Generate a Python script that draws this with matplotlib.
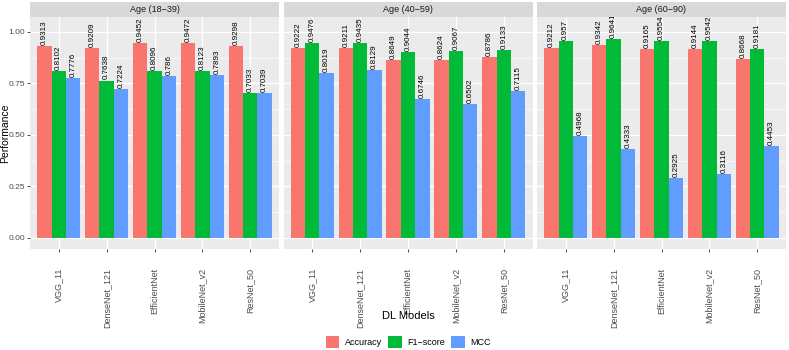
import matplotlib
matplotlib.use("Agg")
import matplotlib.pyplot as plt
import numpy as np
from matplotlib.patches import Rectangle

models = ["VGG_11", "DenseNet_121", "EfficientNet", "MobileNet_v2", "ResNet_50"]
panels = ["Age (18\u221239)", "Age (40\u221259)", "Age (60\u221290)"]
metrics = ["Accuracy", "F1\u2212score", "MCC"]

acc_18_39 = [0.9313, 0.9209, 0.9452, 0.9472, 0.9298]
f1_18_39 = [0.8102, 0.7638, 0.8096, 0.8123, 0.7033]
mcc_18_39 = [0.7776, 0.7224, 0.786, 0.7893, 0.7039]

acc_40_59 = [0.9222, 0.9211, 0.8649, 0.8624, 0.8786]
f1_40_59 = [0.9476, 0.9435, 0.9044, 0.9067, 0.9133]
mcc_40_59 = [0.8019, 0.8129, 0.6746, 0.6502, 0.7115]

acc_60_90 = [0.9212, 0.9342, 0.9165, 0.9144, 0.8668]
f1_60_90 = [0.957, 0.9641, 0.9554, 0.9542, 0.9181]
mcc_60_90 = [0.4968, 0.4333, 0.2925, 0.3116, 0.4453]

data = [
    [acc_18_39, f1_18_39, mcc_18_39],
    [acc_40_59, f1_40_59, mcc_40_59],
    [acc_60_90, f1_60_90, mcc_60_90],
]
colors = ["#F8766D", "#00BA38", "#619CFF"]

W, H = 789, 350
fig = plt.figure(figsize=(W / 100, H / 100), dpi=100)
plt.rcParams['font.family'] = ['Liberation Sans', 'DejaVu Sans']

lefts = [30, 283.5, 537]
pw = 249
ptop, pbot = 17, 249
strip_top = 2

x = np.arange(len(models))
bw = 0.3
for i, (lx, pname) in enumerate(zip(lefts, panels)):
    ax = fig.add_axes([lx / W, 1 - pbot / H, pw / W, (pbot - ptop) / H])
    ax.set_facecolor("#EBEBEB")
    ax.set_xlim(-0.6, len(models) - 0.4)
    ax.set_ylim(-0.0535, 1.072)
    for yv in [0.125, 0.375, 0.625, 0.875]:
        ax.axhline(yv, color="white", lw=0.5, zorder=0)
    for yv in [0, 0.25, 0.5, 0.75, 1.0]:
        ax.axhline(yv, color="white", lw=1.0, zorder=0)
    for xv in x:
        ax.axvline(xv, color="white", lw=1.0, zorder=0)
    for j, vals in enumerate(data[i]):
        xs = x + (j - 1) * bw
        ax.bar(xs, vals, width=bw, color=colors[j], zorder=2, linewidth=0)
        for xx, v in zip(xs, vals):
            ax.text(xx, v + 0.005, f"{v:g}", rotation=90, ha="center", va="bottom",
                    fontsize=5.8, color="black", zorder=3)
    for s in ax.spines.values():
        s.set_visible(False)
    ax.set_xticks(x)
    ax.set_xticklabels(models, rotation=90, fontsize=6.5, color="#4D4D4D")
    ax.tick_params(axis="x", length=2.5, width=0.6, color="#333333", pad=11)
    ax.set_yticks([0, 0.25, 0.5, 0.75, 1.0])
    if i == 0:
        ax.set_yticklabels(["0.00", "0.25", "0.50", "0.75", "1.00"], fontsize=6, color="#4D4D4D")
        ax.tick_params(axis="y", length=2.5, width=0.6, color="#333333", pad=0.8)
    else:
        ax.tick_params(axis="y", length=0, labelleft=False)
    # strip
    fig.patches.append(Rectangle((lx / W, 1 - ptop / H), pw / W, (ptop - strip_top) / H,
                                 transform=fig.transFigure, facecolor="#D9D9D9",
                                 edgecolor="none", zorder=1))
    fig.text((lx + pw / 2) / W, 1 - (ptop + strip_top) / 2 / H, pname, ha="center",
             va="center", fontsize=6.5, color="#1A1A1A")

fig.text(4.8 / W, 1 - 133 / H, "Performance", rotation=90, ha="center", va="center", fontsize=7.5)

cx = (lefts[0] + lefts[-1] + pw) / 2 / W
fig.text(cx, 1 - 316 / H, "DL Models", ha="center", va="center", fontsize=8)

# legend
handles = [Rectangle((0, 0), 1, 1, facecolor=c, edgecolor="none") for c in colors]
fig.legend(handles, metrics, loc="center", bbox_to_anchor=(cx, 1 - 342 / H), ncol=3,
           frameon=False, fontsize=6.5, handlelength=1.5, handleheight=1.5,
           handletextpad=0.6, columnspacing=0.7)

fig.savefig("out.png", dpi=100)
